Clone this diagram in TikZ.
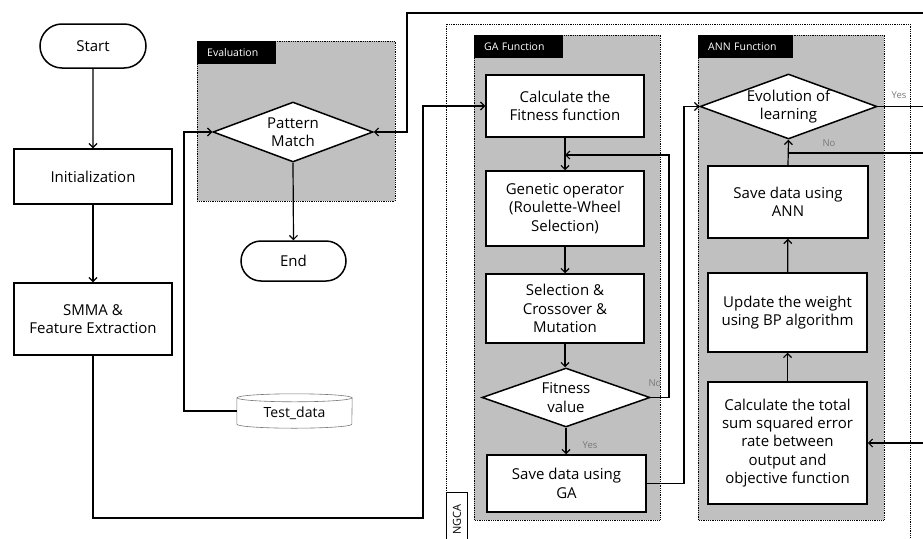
\documentclass[tikz,border=0pt]{standalone}
\usepackage{fontspec}
\setmainfont{Open Sans}
\usetikzlibrary{shapes.geometric,shapes.misc,arrows.meta}
\definecolor{groupgray}{RGB}{192,192,192}
\definecolor{labgray}{RGB}{120,120,120}
\newcommand{\mainf}{\fontsize{15}{18.3}\selectfont}
\newcommand{\tagf}{\fontsize{10.5}{12}\selectfont}
\newcommand{\labf}{\fontsize{9.5}{11}\selectfont}
\tikzset{
  proc/.style={draw, line width=1.5pt, fill=white, align=center, font=\mainf, inner sep=0pt},
  term/.style={proc, rounded rectangle},
  dec/.style={proc, diamond},
  grp/.style={draw, densely dotted, line width=0.8pt, fill=groupgray},
  outer/.style={draw, densely dotted, line width=0.8pt},
  tag/.style={fill=black, text=white, font=\tagf, anchor=north west, inner xsep=10pt, inner ysep=0pt, minimum height=23pt, align=left},
  conn/.style={line width=1.2pt},
  arr/.style={conn, -{Straight Barb[length=4pt,width=8pt,line width=1.2pt]}},
  lab/.style={text=labgray, font=\labf, inner sep=0pt},
  cyl/.style={draw=labgray, line width=0.6pt}
}
\begin{document}
\begin{tikzpicture}[x=1pt,y=-1pt]
\useasboundingbox (0,0) rectangle (923,538);

% group boxes
\draw[grp] (197,41) rectangle (395,201);
\node[tag, text width=59pt] (evtag) at (197,41) {Evaluation};
\draw[outer] (446,24) rectangle (910,560);
\draw[grp] (474,35) rectangle (660,520);
\node[tag, text width=69pt] (gatag) at (474,35) {GA Function};
\draw[grp] (698,35) rectangle (884,520);
\node[tag, text width=75pt] (anntag) at (698,35) {ANN Function};
\node[draw, line width=1.3pt, fill=white, minimum width=21pt, minimum height=60pt, inner sep=0pt, anchor=north west] (ngcabox) at (446,492) {};
\node[rotate=90, font=\fontsize{11}{12}\selectfont, inner sep=0pt, anchor=west] (ngca) at (457,535) {NGCA};

% left column
\node[term, minimum width=106pt, minimum height=44pt] (start) at (93,46) {Start};
\node[proc, minimum width=158pt, minimum height=55pt] (init) at (93,176.5) {Initialization};
\node[proc, minimum width=158pt, minimum height=72pt] (smma) at (93,319) {SMMA \&\\Feature Extraction};

% evaluation
\node[dec, minimum width=160pt, minimum height=60pt, shape aspect=2.67] (pm) at (293,132) {Pattern\\Match};
\node[term, minimum width=105pt, minimum height=40pt] (end) at (293.5,261) {End};
\node[draw=none, minimum width=115pt, minimum height=34pt, inner sep=0pt, font=\fontsize{14}{16}\selectfont] (test) at (294.5,411) {};
\fill[white] ([yshift=-4pt]test.north west) rectangle ([yshift=4pt]test.south east);
\fill[white] ([yshift=4pt]test.south) ellipse [x radius=57.5pt, y radius=4pt];
\draw[cyl] ([yshift=-4pt]test.north west) -- ([yshift=4pt]test.south west)
  arc[start angle=180, end angle=360, x radius=57.5pt, y radius=4pt]
  -- ([yshift=-4pt]test.north east);
\draw[cyl, fill=white] ([yshift=-4pt]test.north) ellipse [x radius=57.5pt, y radius=4pt];
\node[font=\fontsize{14}{16}\selectfont, inner sep=0pt] (testtxt) at ([yshift=-2pt]test.center) {Test\_data};

% GA column
\node[proc, minimum width=158pt, minimum height=62pt] (calcfit) at (565,106) {Calculate the\\Fitness function};
\node[proc, minimum width=158pt, minimum height=75pt] (genop) at (565,208.5) {Genetic operator\\(Roulette-Wheel\\Selection)};
\node[proc, minimum width=158pt, minimum height=69pt] (sel) at (565,308.5) {Selection \&\\Crossover \&\\Mutation};
\node[dec, minimum width=168pt, minimum height=59pt, shape aspect=2.85] (fitval) at (566,397.5) {Fitness\\value};
\node[proc, minimum width=159pt, minimum height=57pt] (savega) at (566.5,483.5) {Save data using\\GA};

% ANN column
\node[dec, minimum width=177pt, minimum height=65pt, shape aspect=2.72] (evol) at (788.5,106.5) {Evolution of\\learning};
\node[proc, minimum width=160pt, minimum height=72pt] (saveann) at (788,202) {Save data using\\ANN};
\node[proc, minimum width=159pt, minimum height=79pt] (update) at (787.5,312.5) {Update the weight\\using BP algorithm};
\node[proc, minimum width=159pt, minimum height=122pt] (calctot) at (787.5,443) {Calculate the total\\sum squared error\\rate between\\output and\\objective function};

% coordinates
\coordinate (c1) at (93,518);
\coordinate (c2) at (423,518);
\coordinate (tl) at (184,411);
\coordinate (topR) at (923,13);
\coordinate (topL) at (407,13);
\coordinate (nofit) at (669,397.5);
\coordinate (nojoin) at (565,155);
\coordinate (gaR) at (684,483.5);
\coordinate (yesR) at (923,106.5);
\coordinate (noR) at (923,153);
\coordinate (noJ) at (788.5,153);
\coordinate (totR) at (923,443);

% connectors
\draw[arr] (start) -- (init);
\draw[arr] (init) -- (smma);
\draw[arr] (smma.south) -- (c1) -- (c2) |- (calcfit.west);
\draw[arr] (test.west) -- (tl) |- (pm.west);
\draw[arr] (topR) -- (topL) |- (pm.east);
\draw[arr] (pm.south) -- (end.north);
\draw[arr] (calcfit) -- (genop);
\draw[arr] (genop) -- (sel);
\draw[arr] (sel.south) -- (sel.south |- fitval.north);
\draw[arr] (fitval.south) -- (fitval.south |- savega.north);
\draw[arr] (fitval.east) -- (nofit) |- (nojoin);
\draw[arr] (savega.east) -- (gaR) |- (evol.west);
\draw[conn] (evol.east) -- (yesR);
\draw[conn] (noR) -- (noJ);
\draw[arr] (saveann.north) -- (evol.south);
\draw[arr] (update) -- (saveann);
\draw[arr] (calctot) -- (update);
\draw[arr] (totR) -- (calctot.east);

% labels
\node[lab] (lyes1) at (590,445) {Yes};
\node[lab] (lno1) at (655,383) {No};
\node[lab] (lyes2) at (899,95) {Yes};
\node[lab] (lno2) at (829,143) {No};
\end{tikzpicture}
\end{document}
